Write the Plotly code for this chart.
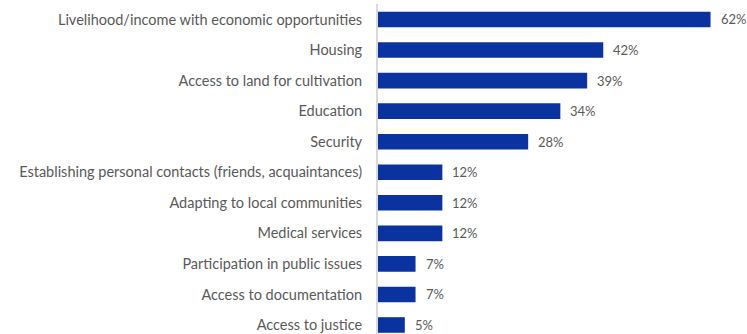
import plotly.graph_objects as go

# Share of respondents naming each factor (%)
categories = [
    "Livelihood/income with economic opportunities",
    "Housing",
    "Access to land for cultivation",
    "Education",
    "Security",
    "Establishing personal contacts (friends, acquaintances)",
    "Adapting to local communities",
    "Medical services",
    "Participation in public issues",
    "Access to documentation",
    "Access to justice",
]
values = [62, 42, 39, 34, 28, 12, 12, 12, 7, 7, 5]

BAR_COLOR = "#0a33a0"
TEXT_COLOR = "#595959"
FONT = "Lato, 'Open Sans', sans-serif"

fig = go.Figure(
    go.Bar(
        x=values,
        y=categories,
        orientation="h",
        marker=dict(color=BAR_COLOR, line=dict(width=0)),
        hoverinfo="skip",
    )
)

# Percentage labels just past the end of each bar
for cat, val in zip(categories, values):
    fig.add_annotation(
        x=val, y=cat, text=f"{val}%",
        xanchor="left", yanchor="middle", xshift=8, showarrow=False,
        font=dict(family=FONT, size=13, color=TEXT_COLOR),
    )

fig.update_layout(
    width=747, height=334,
    margin=dict(l=378, r=0, t=4, b=0),
    paper_bgcolor="white", plot_bgcolor="white",
    bargap=0.49,
    showlegend=False,
    font=dict(family=FONT, size=14, color=TEXT_COLOR),
)
fig.update_xaxes(
    range=[0, 68.8], visible=False, showgrid=False, zeroline=False,
)
fig.update_yaxes(
    type="category",
    range=[10.295, -0.507],
    showgrid=False, zeroline=False,
    showline=True, linecolor="#d9d9d9", linewidth=2,
    ticks="", ticklabelstandoff=11,
    tickfont=dict(family=FONT, size=14.5, color=TEXT_COLOR),
)

fig.write_html("out.html")
